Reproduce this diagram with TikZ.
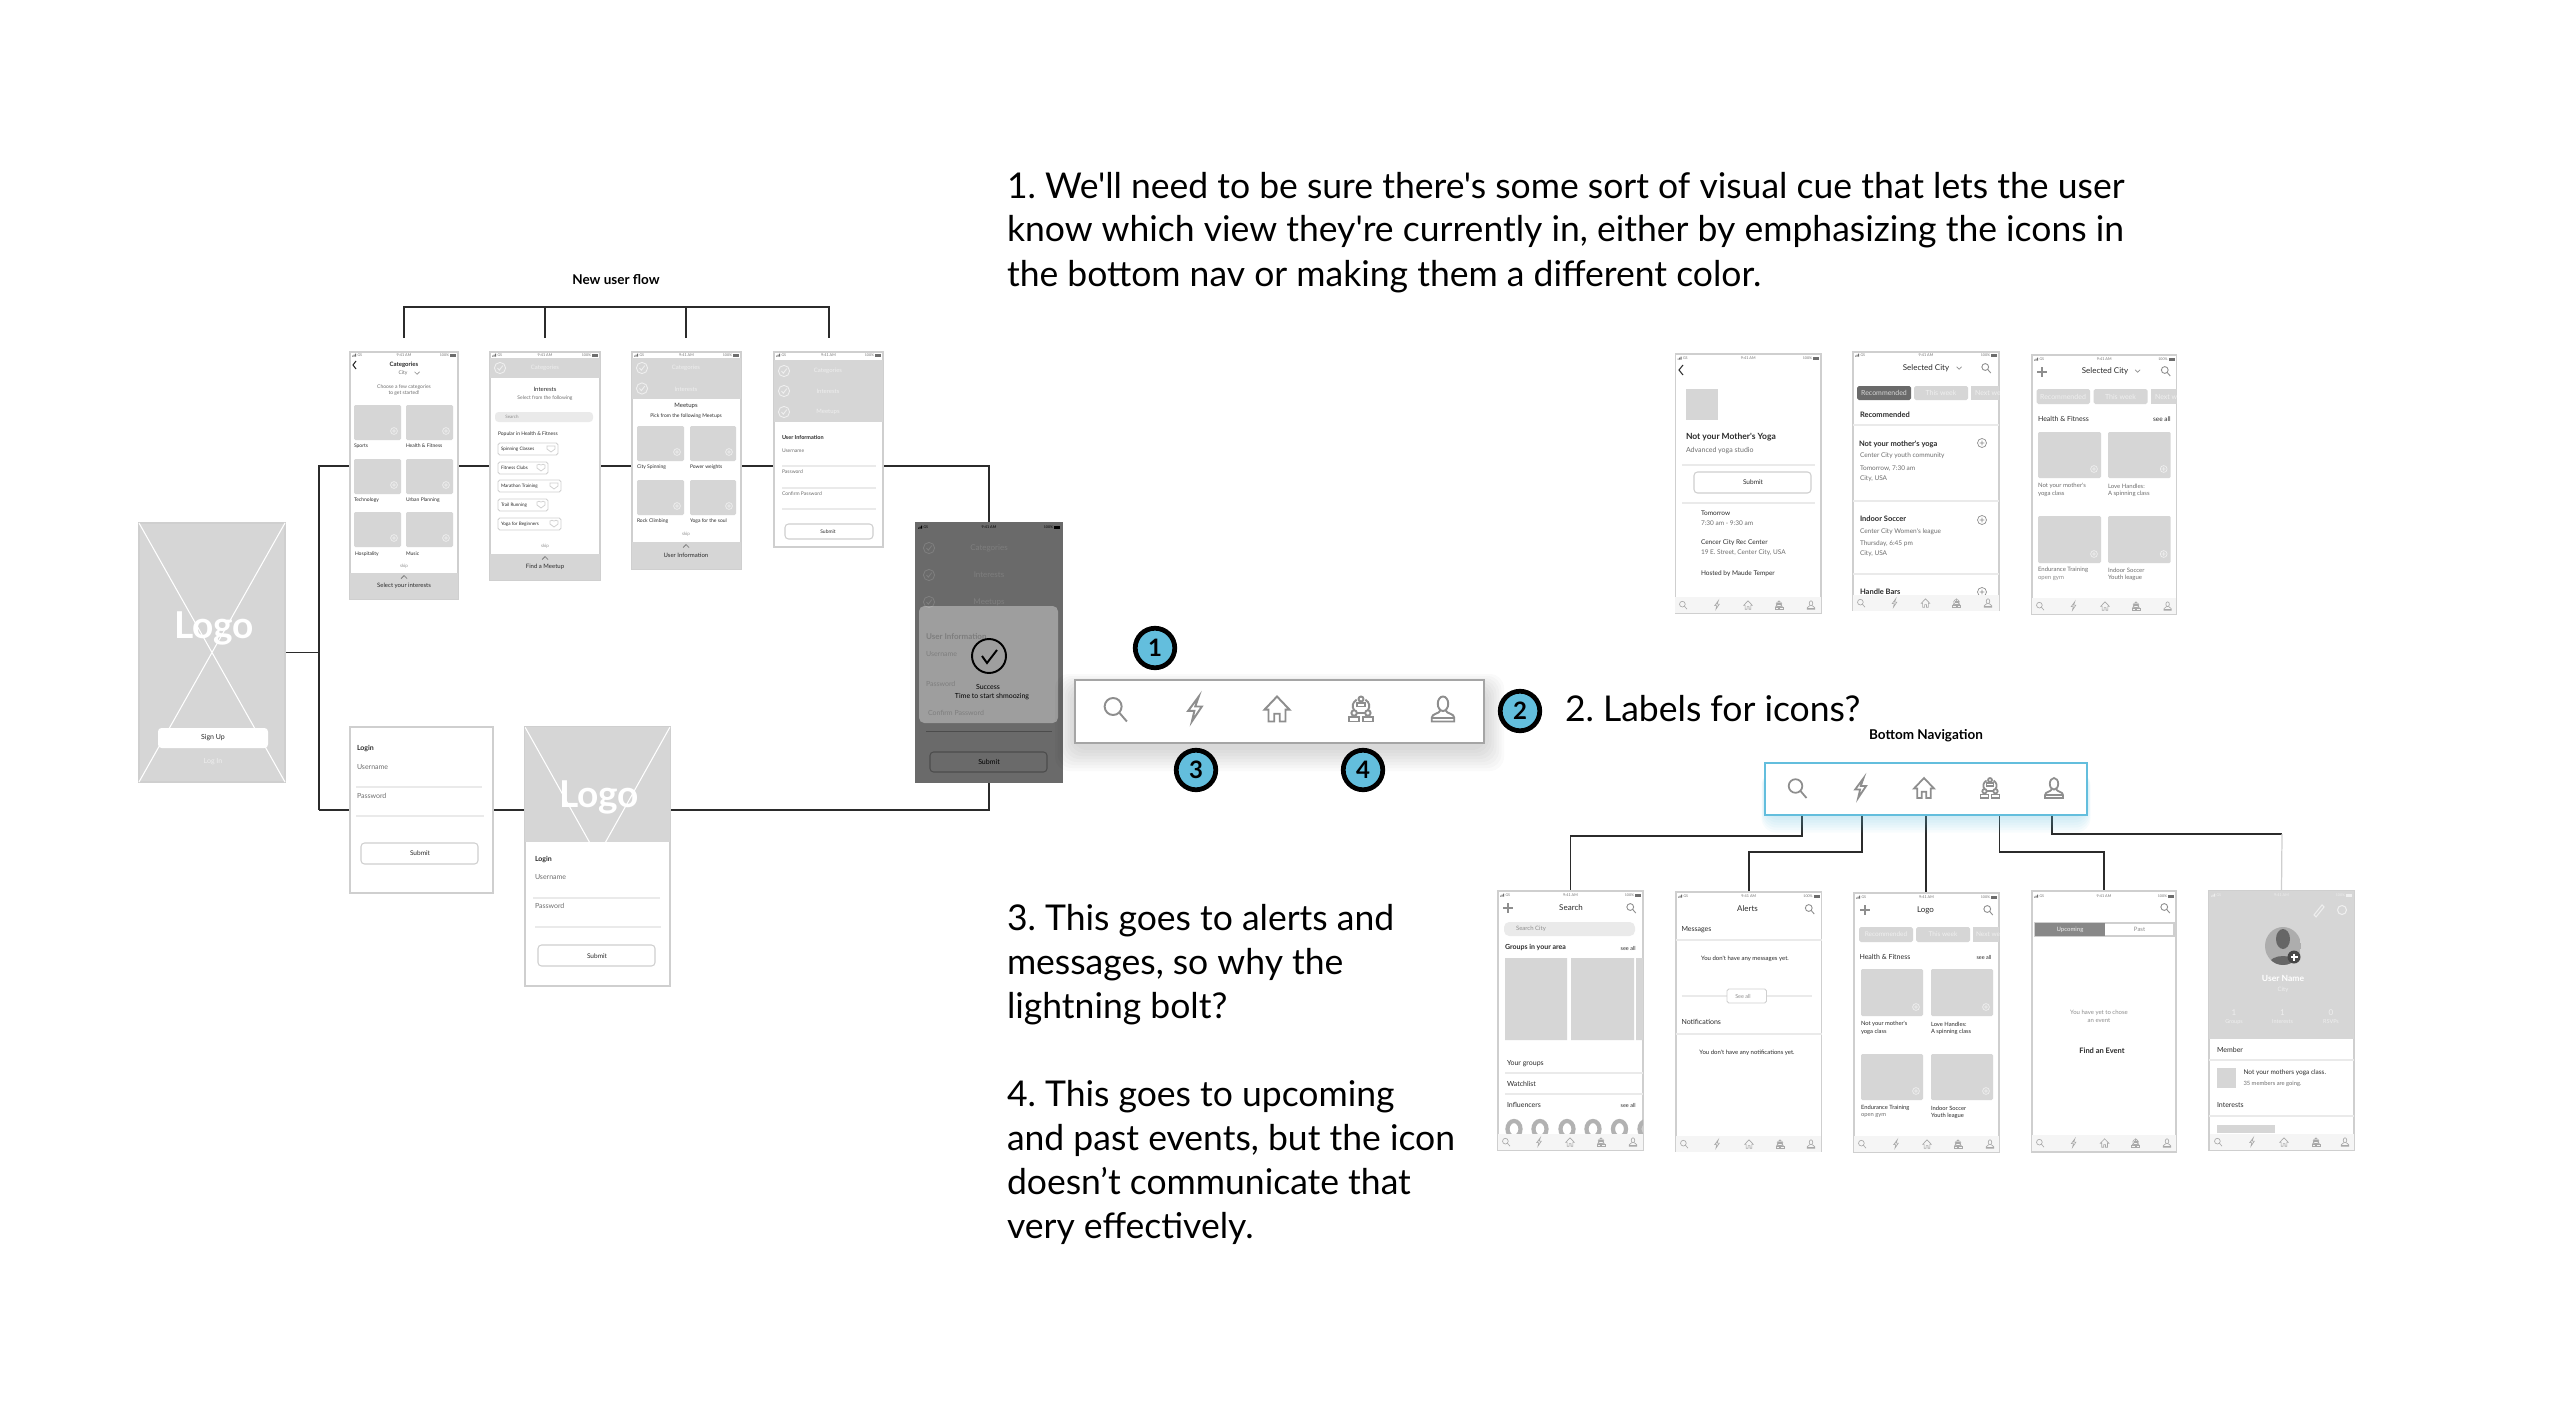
\documentclass[tikz,border=0pt]{standalone}
\usepackage{fontspec}
\setmainfont{Lato}
\newfontfamily\notefont{Lato}
\usepackage{xcolor}
\usetikzlibrary{backgrounds}

\definecolor{tilegray}{HTML}{D6D6D6}
\definecolor{edgegray}{HTML}{CFCFCF}
\definecolor{inkdark}{HTML}{2B2B2B}
\definecolor{inkmid}{HTML}{6E6E6E}
\definecolor{rulegray}{HTML}{EAEAEA}
\definecolor{stripgray}{HTML}{F5F5F5}
\definecolor{palegray}{HTML}{EFEFEF}
\definecolor{iconline}{HTML}{8E8E8E}
\definecolor{tinyline}{HTML}{A8A8A8}
\definecolor{badgeblue}{HTML}{63BEDD}
\definecolor{darkphone}{HTML}{6A6A6A}
\definecolor{darkghost}{HTML}{7E7E7E}

\newcommand{\fpx}[1]{\notefont\fontsize{\fpeval{#1*0.2845}}{\fpeval{#1*0.34}}\selectfont}

\tikzset{
  fz/.style={font=\fpx{#1}},
  fzb/.style={font=\fpx{#1}\bfseries},
  lab/.style={inner sep=0pt,outer sep=0pt,text=inkdark,fz=5},
  lft/.style={lab,anchor=west},
  note/.style={lab,anchor=base west,fz=35.5,text=black},
  screen/.style={draw=edgegray,line width=.3pt,fill=white,anchor=north west,inner sep=0pt,outer sep=0pt},
  wire/.style={draw=inkdark,line width=.55pt},
  wirelight/.style={draw=edgegray,line width=.35pt},
  badge/.style={circle,draw=black,line width=1.35pt,fill=badgeblue,minimum size=.395cm,inner sep=0pt,fzb=24,text=black},
  tinyic/.style={draw=tinyline,line width=.18pt,scale=4.2},
  bigic/.style={draw=iconline,line width=.55pt,scale=12.5},
  midic/.style={draw=iconline,line width=.5pt,scale=10},
  searchic/.pic={
    \path[pic actions,fill=none] (-.15,-.2) circle (.68);
    \path[pic actions] (.33,.28) -- (.95,1);},
  boltic/.pic={
    \path[pic actions,fill=none] (.3,-1) -- (-.55,.15) -- (-.05,.15) -- (-.25,1) -- (.55,-.2) -- (.02,-.2) -- cycle;},
  houseic/.pic={
    \path[pic actions,fill=none] (0,-1) -- (-1,.05) -- (-.68,.05) -- (-.68,1) -- (-.22,1) -- (-.22,.38) -- (.22,.38) -- (.22,1) -- (.68,1) -- (.68,.05) -- (1,.05) -- cycle;},
  groupic/.pic={
    \path[pic actions,fill=none] (0,-.8) circle (.2);
    \path[pic actions,fill=none] (-.35,-.5) rectangle (.35,-.2);
    \path[pic actions,fill=none] (-.35,-.75) .. controls (-.7,-.5) and (-.75,-.2) .. (-.55,.1);
    \path[pic actions,fill=none] (.35,-.75) .. controls (.7,-.5) and (.75,-.2) .. (.55,.1);
    \path[pic actions,fill=none] (-.55,.32) circle (.22);
    \path[pic actions,fill=none] (.55,.32) circle (.22);
    \path[pic actions,fill=none] (-.95,.65) rectangle (-.15,1);
    \path[pic actions,fill=none] (.15,.65) rectangle (.95,1);
    \path[pic actions] (-.33,.32) -- (.33,.32);},
  userIc/.pic={
    \path[pic actions,fill=none] (0,-.42) ellipse (.42 and .58);
    \path[pic actions,fill=none] (-.22,.12) .. controls (-.3,.4) and (-.9,.35) .. (-.9,.7) -- (-.9,1) -- (.9,1) -- (.9,.7) .. controls (.9,.35) and (.3,.4) .. (.22,.12);
    \path[pic actions] (-.9,.72) -- (.9,.72);},
}

\newcounter{txtn}
\newcommand{\txt}[4][]{\stepcounter{txtn}\node[lab,#1] (txt\arabic{txtn}) at ({#2},{#3}) {#4};}
\newcommand{\screen}[6][]{\node[screen,#1,minimum width={(#5-#3)*0.01cm},minimum height={(#6-#4)*0.01cm}] (#2) at (#3,#4) {};}
\newcommand{\plusmark}[4]{\draw[#4,line width=.2pt] (#1,#2) circle (#3) ({#1-#3*.55},#2) -- ({#1+#3*.55},#2) (#1,{#2-#3*.55}) -- (#1,{#2+#3*.55});}
\newcommand{\tile}[4]{\fill[tilegray,rounded corners=.4pt] (#1,#2) rectangle (#3,#4);\plusmark{#3-7}{#4-9}{3.4}{palegray}}
\newcommand{\chk}[3]{\draw[#3,line width=.25pt] (#1,#2) circle (5.6) ({#1-2.5},#2) -- ({#1-.7},{#2+2.2}) -- ({#1+2.8},{#2-2.4});}
\newcommand{\chevup}[2]{\draw[inkmid,line width=.2pt] ({#1-3},{#2+1.5}) -- (#1,{#2-1.5}) -- ({#1+3},{#2+1.5});}
\newcommand{\chevdn}[3]{\draw[iconline,line width=.2pt] ({#1-#3},{#2-#3*.5}) -- (#1,{#2+#3*.5}) -- ({#1+#3},{#2-#3*.5});}
\newcommand{\hair}[3]{\draw[rulegray,line width=.3pt] (#1,#3) -- (#2,#3);}
\newcommand{\statusbar}[4][inkmid]{%
  \fill[#1] ({#2+2},{#4+1.6}) rectangle ({#2+3},{#4+.6}) ({#2+3.6},{#4+1.6}) rectangle ({#2+4.6},{#4-.3}) ({#2+5.2},{#4+1.6}) rectangle ({#2+6.2},{#4-1.4});
  \txt[fz=3.6,text=#1,anchor=west]{#2+7.5}{#4}{GS}
  \txt[fz=3.8,text=#1]{(#2+#3)/2}{#4}{9:41 AM}
  \txt[fz=3.6,text=#1,anchor=east]{#3-9}{#4}{100\%}
  \fill[#1] ({#3-8},{#4-1.5}) rectangle ({#3-2},{#4+1.5});}
\newcommand{\tinynav}[7]{\fill[stripgray] ({#1-8},{#2-8.5}) rectangle ({#1+#7},{#2+8});
  \pic[tinyic] at (#1,#2) {searchic};
  \pic[tinyic] at (#3,#2) {boltic};
  \pic[tinyic] at (#4,#2) {houseic};
  \pic[tinyic] at (#5,#2) {groupic};
  \pic[tinyic] at (#6,#2) {userIc};}

\begin{document}
\frenchspacing
\begin{tikzpicture}[x=0.01cm,y=-0.01cm]
\useasboundingbox (0,-1) rectangle (2559,1420);

% Notes
\node[note] (noteone) at (1007,197) {1. We'll need to be sure there's some sort of visual cue that lets the user};
\node[note] (noteonea) at (1007,241) {know which view they're currently in, either by emphasizing the icons in};
\node[note] (noteoneb) at (1007,285) {the bottom nav or making them a different color.};
\node[note] (notetwo) at (1565,720.500) {2. Labels for icons?};
\node[note] (notethree) at (1007,929.500) {3. This goes to alerts and};
\node[note] (notethreea) at (1007,973.500) {messages, so why the};
\node[note] (notethreeb) at (1007,1017.500) {lightning bolt?};
\node[note] (notefour) at (1007,1105) {4. This goes to upcoming};
\node[note] (notefoura) at (1007,1149) {and past events, but the icon};
\node[note] (notefourb) at (1007,1193) {doesn’t communicate that};
\node[note] (notefourc) at (1007,1237) {very effectively.};

% Titles
\node[lab,fzb=13.5,text=black] (flowtitle) at (616,279) {New user flow};
\node[lab,fzb=13.5,text=black] (navtitle) at (1926,735) {Bottom Navigation};

% Splash
\screen[fill=tilegray]{splash}{139}{522}{285}{781}
\draw[white,line width=.3pt] (splash.north west) -- (splash.south east) (splash.north east) -- (splash.south west);
\txt[fzb=37,text=white]{214}{627}{Logo}
\fill[white,rounded corners=1pt] (158,727) rectangle (268,747);
\txt[fz=7,text=inkdark]{213}{737}{Sign Up}
\txt[fz=7,text=palegray]{213}{761}{Log In}

% Categories
\screen{catscreen}{350}{351}{458}{598}
\statusbar{350}{458}{354}
\draw[inkdark,line width=.3pt] (356,360) -- (353,364) -- (356,368);
\txt[fzb=6]{404}{364}{Categories}
\txt[fz=5,text=inkmid]{403}{372}{City}
\chevdn{417}{372}{2.5}
\txt[fz=5,text=inkmid]{404}{386}{Choose a few categories}
\txt[fz=5,text=inkmid]{404}{392}{to get started!}
\tile{354}{404}{401}{439}\tile{406}{404}{453}{439}
\tile{354}{458}{401}{493}\tile{406}{458}{453}{493}
\tile{354}{511}{401}{546}\tile{406}{511}{453}{546}
\txt[lft]{354}{445}{Sports}
\txt[lft]{406}{445}{Health \& Fitness}
\txt[lft]{354}{499}{Technology}
\txt[lft]{406}{499}{Urban Planning}
\txt[lft]{355}{553}{Hospitality}
\txt[lft]{406}{553}{Music}
\txt[fz=4.5,text=iconline]{404}{565}{skip}
\fill[tilegray] (350,572) rectangle (458,598);
\chevup{404}{576}
\txt[fz=6]{404}{585}{Select your interests}

% Interests
\screen{intscreen}{490}{351}{600}{579}
\statusbar{490}{600}{354}
\fill[tilegray] (490,357) rectangle (600,377);
\chk{500}{367}{palegray}
\txt[fz=6,text=palegray]{545}{367}{Categories}
\txt[fz=6]{545}{388}{Interests}
\txt[fz=5,text=inkmid]{545}{397.500}{Select from the following}
\fill[rulegray,rounded corners=1pt] (495,411) rectangle (593,421);
\txt[fz=4.5,text=iconline]{512}{416}{Search}
\txt[lft]{498}{433}{Popular in Health \& Fitness}
\foreach \topy/\rightx/\word in {442/558/Spinning Classes,461/548/Fitness Clubs,479/561/Marathon Training,498/548/Trail Running,517/561/Yoga for Beginners}{
  \draw[edgegray,line width=.25pt,rounded corners=.5pt] (498,\topy) rectangle (\rightx,{\topy+12});
  \txt[lft,fz=4.6]{501}{\topy+6}{\word}
  \draw[edgegray,line width=.2pt] ({\rightx-7},{\topy+3}) .. controls ({\rightx-5},{\topy+2}) .. ({\rightx-3},{\topy+3}) -- ({\rightx-3},{\topy+6}) -- ({\rightx-7},{\topy+9}) -- ({\rightx-11},{\topy+6}) -- ({\rightx-11},{\topy+3}) .. controls ({\rightx-9},{\topy+2}) .. ({\rightx-7},{\topy+3});
}
\txt[fz=4.5,text=iconline]{545}{545}{skip}
\fill[tilegray] (490,553) rectangle (600,579);
\chevup{545}{557}
\txt[fz=6]{545}{566}{Find a Meetup}

% Meetups
\screen{meetscreen}{632}{351}{741}{568}
\statusbar{632}{741}{354}
\fill[tilegray] (632,357) rectangle (741,397.500);
\chk{642}{367}{palegray}\chk{642}{387.500}{palegray}
\txt[fz=6,text=palegray]{686}{367}{Categories}
\txt[fz=6,text=palegray]{686}{388}{Interests}
\txt[fz=6]{686}{405}{Meetups}
\txt[fz=5]{686}{415}{Pick from the following Meetups}
\tile{637}{425}{684}{460}\tile{690}{425}{736}{460}
\tile{637}{479}{684}{514}\tile{690}{479}{736}{514}
\txt[lft]{637}{466}{City Spinning}
\txt[lft]{690}{466}{Power weights}
\txt[lft]{637}{520}{Rock Climbing}
\txt[lft]{690}{520}{Yoga for the soul}
\txt[fz=4.5,text=iconline]{686}{533}{skip}
\fill[tilegray] (632,541) rectangle (741,568);
\chevup{686}{545}
\txt[fz=6]{686}{554}{User Information}

% User information
\screen{userscreen}{774}{351}{883}{546}
\statusbar{774}{883}{354}
\fill[tilegray] (774,359) rectangle (883,421);
\chk{784}{370}{palegray}\chk{784}{390}{palegray}\chk{784}{411}{palegray}
\txt[fz=6,text=palegray]{828}{370}{Categories}
\txt[fz=6,text=palegray]{828}{390}{Interests}
\txt[fz=6,text=palegray]{828}{411}{Meetups}
\txt[lft,fzb=5.500]{782}{436}{User Information}
\txt[lft,fz=5,text=inkmid]{782}{450}{Username}
\txt[lft,fz=5,text=inkmid]{782}{471}{Password}
\txt[lft,fz=5,text=inkmid]{782}{493}{Confirm Password}
\hair{782}{876}{465}\hair{782}{876}{487}\hair{782}{876}{508}
\draw[edgegray,line width=.3pt,rounded corners=1pt] (785,523) rectangle (873,538);
\txt[fz=5]{828}{531}{Submit}

% Success
\screen[fill=darkphone,draw=darkphone]{success}{916}{522}{1062}{781}
\statusbar[black]{916}{1062}{526}
\chk{929}{547}{darkghost}\chk{929}{574}{darkghost}\chk{929}{601}{darkghost}
\txt[fz=8,text=darkghost]{989}{547}{Categories}
\txt[fz=8,text=darkghost]{989}{574}{Interests}
\txt[fz=8,text=darkghost]{989}{601}{Meetups}
\fill[white,opacity=.35,rounded corners=1.5pt] (919,605) rectangle (1058,722);
\txt[lft,fzb=8,text=darkghost]{926}{636}{User Information}
\txt[lft,fz=7,text=darkghost]{926}{653}{Username}
\txt[lft,fz=7,text=darkghost]{926}{683}{Password}
\txt[lft,fz=7,text=darkghost]{928}{712}{Confirm Password}
\draw[black,line width=.55pt] (989,655) circle (17);
\draw[black,line width=.55pt] (982,655) -- (987,662) -- (997,649);
\txt[fz=7,text=black]{988}{686}{Success}
\txt[fz=7,text=black]{992}{696}{Time to start shmoozing}
\draw[black!70,line width=.2pt] (926,730) -- (1052,730);
\draw[black!70,line width=.3pt,rounded corners=1pt] (930,751) rectangle (1047,771);
\txt[fz=7,text=black]{989}{761}{Submit}

% Login
\screen{loginscreen}{350}{726}{493}{892}
\txt[lft,fzb=7]{357}{748}{Login}
\txt[lft,fz=7,text=inkmid]{357}{766}{Username}
\hair{356}{482}{786}
\txt[lft,fz=7,text=inkmid]{357}{795}{Password}
\hair{356}{484}{815}
\draw[edgegray,line width=.3pt,rounded corners=1pt] (361,842) rectangle (478,863);
\txt[fz=6.5]{420}{852}{Submit}

% Login with logo
\screen{logoscreen}{525}{726}{670}{985}
\fill[tilegray] (525,726) rectangle (670,841);
\begin{scope}
\clip (525,726) rectangle (670,841);
\draw[white,line width=.3pt] (525,726) -- (670,985) (670,726) -- (525,985);
\end{scope}
\txt[fzb=37,text=white]{599}{796}{Logo}
\txt[lft,fzb=7]{535}{859}{Login}
\txt[lft,fz=7,text=inkmid]{535}{876}{Username}
\hair{533}{660}{897}
\txt[lft,fz=7,text=inkmid]{535}{905}{Password}
\hair{535}{661}{926}
\draw[edgegray,line width=.3pt,rounded corners=1pt] (538,944) rectangle (655,965);
\txt[fz=6.5]{597}{955}{Submit}

% Nav bar
\foreach \grow in {1,...,8}{
  \fill[black,opacity=.018,rounded corners=4pt] ({1075-\grow*2.5},{689-\grow*2}) rectangle ({1484+\grow*2.5},{746+\grow*3});
}
\screen[draw=iconline!80,line width=.55pt]{navbar}{1075}{679}{1484}{742}
\pic[bigic] at (1115,708) {searchic};
\pic[bigic] at (1195,708) {boltic};
\pic[bigic] at (1277,708) {houseic};
\pic[bigic] at (1361,708) {groupic};
\pic[bigic] at (1443,708) {userIc};
\node[badge] (badgeone) at (1155,647) {1};
\node[badge] (badgetwo) at (1520,710) {2};
\node[badge] (badgethree) at (1196,769) {3};
\node[badge] (badgefour) at (1363,769) {4};

% Event detail
\screen{detailscreen}{1675.500}{353}{1821}{612}
\statusbar{1675.500}{1821}{357}
\draw[inkdark,line width=.3pt] (1683,364) -- (1679,369) -- (1683,374);
\fill[tilegray] (1686,388) rectangle (1718,419);
\txt[lft,fzb=8.500]{1686}{436}{Not your Mother's Yoga}
\txt[lft,fz=7,text=inkmid]{1686}{450}{Advanced yoga studio}
\hair{1682}{1815}{464}
\draw[edgegray,line width=.3pt,rounded corners=1pt] (1694,471) rectangle (1811,492);
\txt[fz=6.5]{1753}{481}{Submit}
\hair{1682}{1815}{502}
\txt[lft,fz=6.5]{1701}{512}{Tomorrow}
\txt[lft,fz=6.5,text=inkmid]{1701}{522}{7:30 am - 9:30 am}
\txt[lft,fz=6.5]{1701}{542}{Cencer City Rec Center}
\txt[lft,fz=6.5,text=inkmid]{1701}{552}{19 E. Street, Center City, USA}
\txt[lft,fz=6.5]{1701}{573}{Hosted by Maude Temper}
\tinynav{1683}{604}{1717}{1748}{1779}{1811}{138}

% Recommended
\screen{recscreen}{1853}{351}{1999}{609}
\statusbar{1853}{1999}{354}
\txt[fz=8,text=inkdark]{1926}{367}{Selected City}
\chevdn{1959}{367}{2.5}
\pic[draw=iconline,line width=.25pt,scale=5] at (1986,367) {searchic};
\fill[darkphone,rounded corners=.5pt] (1857,385) rectangle (1911,399);
\fill[tilegray,rounded corners=.5pt] (1914,385) rectangle (1968,399);
\txt[fz=7,text=tilegray]{1884}{392}{Recommended}
\txt[fz=7,text=palegray]{1941}{392}{This week}
\begin{scope}
\clip (1971,385) rectangle (1999,399);
\fill[tilegray] (1971,385) rectangle (1999,399);
\txt[lft,fz=7,text=palegray]{1975}{392}{Next week}
\end{scope}
\txt[lft,fzb=7.500]{1860}{414}{Recommended}
\hair{1853}{1999}{424}
\txt[lft,fzb=7.500]{1859}{443}{Not your mother's yoga}
\plusmark{1982}{442}{4.500}{iconline}
\txt[lft,fz=6.5,text=inkmid]{1860}{455}{Center City youth community}
\txt[lft,fz=6.5,text=inkmid]{1860}{468}{Tomorrow, 7:30 am}
\txt[lft,fz=6.5,text=inkmid]{1860}{478}{City, USA}
\hair{1853}{1999}{500}
\txt[lft,fzb=7.500]{1860}{518}{Indoor Soccer}
\plusmark{1982}{519}{4.500}{iconline}
\txt[lft,fz=6.5,text=inkmid]{1860}{531}{Center City Women's league}
\txt[lft,fz=6.5,text=inkmid]{1860}{543}{Thursday, 6:45 pm}
\txt[lft,fz=6.5,text=inkmid]{1860}{553}{City, USA}
\hair{1853}{1999}{573}
\txt[lft,fzb=7.500]{1860}{591}{Handle Bars}
\plusmark{1982}{591}{4.500}{iconline}
\tinynav{1861}{602}{1894.500}{1925.500}{1956.500}{1988}{138}

% Selected city
\screen{cityscreen}{2032}{354}{2176.500}{613}
\statusbar{2032}{2176.500}{358}
\draw[iconline,line width=.3pt] (2037,371) -- (2047,371) (2042,366) -- (2042,376);
\txt[fz=8,text=inkdark]{2105}{370}{Selected City}
\chevdn{2137.600}{370}{2.5}
\pic[draw=iconline,line width=.25pt,scale=5] at (2165.500,370) {searchic};
\fill[tilegray,rounded corners=.5pt] (2036.500,388) rectangle (2090,403);
\fill[tilegray,rounded corners=.5pt] (2093.500,388) rectangle (2147.600,403);
\txt[fz=7,text=palegray]{2063}{395.500}{Recommended}
\txt[fz=7,text=palegray]{2120.500}{395.500}{This week}
\begin{scope}
\clip (2151,388) rectangle (2176.500,403);
\fill[tilegray] (2151,388) rectangle (2176.500,403);
\txt[lft,fz=7,text=palegray]{2155}{395.500}{Next week}
\end{scope}
\txt[lft,fz=7]{2038}{418}{Health \& Fitness}
\txt[lab,anchor=east,fz=6.5]{2170.700}{418}{see all}
\tile{2038}{431}{2101}{477}\tile{2108}{431}{2170.700}{477}
\tile{2038}{515}{2101}{562}\tile{2108}{515}{2170.700}{562}
\txt[lft,fz=6,text=inkmid]{2038}{485}{Not your mother's}
\txt[lft,fz=6,text=inkmid]{2038}{493}{yoga class}
\txt[lft,fz=6,text=inkmid]{2108}{485}{Love Handles:}
\txt[lft,fz=6,text=inkmid]{2108}{493}{A spinning class}
\txt[lft,fz=6,text=inkmid]{2038}{569}{Endurance Training}
\txt[lft,fz=6,text=iconline]{2038}{577}{open gym}
\txt[lft,fz=6,text=inkmid]{2108}{569}{Indoor Soccer}
\txt[lft,fz=6,text=inkmid]{2108}{577}{Youth league}
\tinynav{2040}{605}{2073.500}{2105}{2136}{2167.600}{136}

% Blue bar
\foreach \grow in {1,...,7}{
  \fill[badgeblue,opacity=.05,rounded corners=4pt] ({1765-\grow*.5},770) rectangle ({2087+\grow*.5},{814+\grow*2.5});
}
\screen[draw=badgeblue,line width=.8pt]{bluebar}{1765}{762}{2087}{814}
\pic[midic] at (1797,787) {searchic};
\pic[midic] at (1860.600,787) {boltic};
\pic[midic] at (1924,787) {houseic};
\pic[midic] at (1990,787) {groupic};
\pic[midic] at (2054,787) {userIc};

% Search tab
\screen{searchscreen}{1498}{890}{1643}{1149}
\statusbar{1498}{1643}{894}
\draw[iconline,line width=.3pt] (1503,907) -- (1513,907) (1508,902) -- (1508,912);
\txt[fz=8]{1571}{907}{Search}
\pic[draw=iconline,line width=.25pt,scale=5] at (1631,907) {searchic};
\fill[rulegray,rounded corners=1.5pt] (1504,921) rectangle (1635,935);
\txt[lft,fz=6,text=iconline]{1516}{928}{Search City}
\txt[lft,fzb=7]{1505}{946}{Groups in your area}
\txt[lab,anchor=east,fz=5.5]{1635.600}{947}{see all}
\fill[tilegray] (1505,957) rectangle (1567,1039) (1571,957) rectangle (1634,1039) (1636,957) rectangle (1643,1039);
\txt[lft,fz=7]{1507}{1063}{Your groups}
\hair{1505}{1643}{1072}
\txt[lft,fz=7]{1507}{1083}{Watchlist}
\hair{1505}{1643}{1093}
\txt[lft,fz=7]{1507}{1104}{Influencers}
\txt[lab,anchor=east,fz=5.5]{1635.600}{1104}{see all}
\begin{scope}
\clip (1498,1110) rectangle (1643,1132);
\foreach \ringx in {1514,1540,1567,1593,1619.500,1646}{
  \draw[black!30,line width=1.2pt] (\ringx,1128) ellipse (6.5 and 8);
}
\end{scope}
\tinynav{1506}{1141}{1539}{1570}{1601}{1633}{137}

% Alerts tab
\screen{alertscreen}{1676}{891}{1821.600}{1150}
\statusbar{1676}{1821.600}{895}
\txt[fz=8]{1747.500}{908}{Alerts}
\pic[draw=iconline,line width=.25pt,scale=5] at (1809.500,908) {searchic};
\txt[lft,fz=7]{1681.500}{929}{Messages}
\hair{1676}{1821.600}{939}
\txt[fz=6]{1745}{958}{You don't have any messages yet.}
\hair{1681.500}{1812}{995}
\draw[edgegray,fill=white,line width=.25pt,rounded corners=.5pt] (1727,988) rectangle (1766.500,1002);
\txt[fz=5.5,text=iconline]{1743}{995}{See all}
\txt[lft,fz=7]{1681.500}{1021}{Notifications}
\hair{1676}{1821.600}{1033}
\txt[fz=6]{1747}{1052}{You don't have any notifications yet.}
\tinynav{1684}{1143}{1717}{1749}{1780}{1811}{137}

% Home tab
\screen{homescreen}{1854}{892}{1999}{1151}
\statusbar{1854}{1999}{896}
\draw[iconline,line width=.3pt] (1860,909) -- (1870,909) (1865,904) -- (1865,914);
\txt[fz=8]{1925.500}{909}{Logo}
\pic[draw=iconline,line width=.25pt,scale=5] at (1988,909) {searchic};
\fill[tilegray,rounded corners=.5pt] (1859,926) rectangle (1913,941) (1916,926) rectangle (1970,941);
\txt[fz=6.5,text=palegray]{1886}{933.500}{Recommended}
\txt[fz=6.5,text=palegray]{1943}{933.500}{This week}
\begin{scope}
\clip (1973,926) rectangle (1999,941);
\fill[tilegray] (1973,926) rectangle (1999,941);
\txt[lft,fz=6.5,text=palegray]{1976}{933.500}{Next week}
\end{scope}
\txt[lft,fz=7]{1859.500}{956}{Health \& Fitness}
\txt[lab,anchor=east,fz=5.5]{1991.500}{956}{see all}
\tile{1861}{968}{1923}{1015}\tile{1931}{968}{1993}{1015}
\tile{1861}{1053}{1923}{1099}\tile{1931}{1053}{1993}{1099}
\txt[lft,fz=5.800]{1861}{1023}{Not your mother's}
\txt[lft,fz=5.800]{1861}{1031}{yoga class}
\txt[lft,fz=5.800]{1931}{1023}{Love Handles:}
\txt[lft,fz=5.800]{1931}{1031}{A spinning class}
\txt[lft,fz=5.800]{1861}{1107}{Endurance Training}
\txt[lft,fz=5.800,text=inkmid]{1861}{1115}{open gym}
\txt[lft,fz=5.800]{1931}{1107}{Indoor Soccer}
\txt[lft,fz=5.800]{1931}{1115}{Youth league}
\tinynav{1862}{1143}{1896}{1927}{1958}{1990}{137}

% Events tab
\screen{eventscreen}{2032}{890}{2176}{1151}
\statusbar{2032}{2176}{895}
\pic[draw=iconline,line width=.25pt,scale=5] at (2165,907) {searchic};
\draw[edgegray,line width=.35pt] (2035,922) rectangle (2174,935);
\fill[darkphone!80] (2035,922) rectangle (2104.600,935);
\txt[fz=6,text=palegray]{2070}{928.500}{Upcoming}
\txt[fz=6,text=iconline]{2139.600}{928.500}{Past}
\txt[fz=6,text=iconline]{2099}{1012}{You have yet to chose}
\txt[fz=6,text=iconline]{2099}{1020}{an event}
\txt[fzb=7.500]{2102}{1050}{Find an Event}
\tinynav{2040}{1142}{2073.600}{2104.600}{2135.600}{2167}{136}

% Profile tab
\screen{profilescreen}{2209}{890}{2354}{1149}
\fill[tilegray] (2209,890) rectangle (2354,1038);
\statusbar[palegray]{2209}{2354}{894}
\draw[palegray,line width=.3pt] (2314,914) -- (2322,904) -- (2324,906) -- (2316,916) -- cycle;
\draw[palegray,line width=.3pt] (2342,909) circle (4.5);
\begin{scope}
\clip (2283,945) ellipse (18 and 19);
\fill[black!32] (2265,926) rectangle (2301,964);
\fill[black!60] (2283,938) ellipse (7 and 10);
\fill[black!60] (2268,964) .. controls (2270,952) and (2296,952) .. (2298,964) -- cycle;
\end{scope}
\fill[black!72] (2294,956) circle (6.5);
\draw[white,line width=.35pt] (2290.500,956) -- (2297.500,956) (2294,952.500) -- (2294,959.500);
\txt[fzb=8.500,text=white]{2283}{977}{User Name}
\txt[fz=6,text=palegray]{2283}{989}{City}
\txt[fz=8,text=palegray]{2234}{1012}{1}
\txt[fz=8,text=palegray]{2282.500}{1012}{1}
\txt[fz=8,text=palegray]{2331}{1012}{0}
\txt[fz=5.5,text=palegray]{2234}{1021}{Groups}
\txt[fz=5.5,text=palegray]{2282.500}{1021}{Interests}
\txt[fz=5.5,text=palegray]{2331}{1021}{RSVPs}
\txt[lft,fz=7]{2217}{1049}{Member}
\hair{2209}{2354}{1059}
\fill[tilegray] (2216.500,1067) rectangle (2236,1087);
\txt[lft,fz=6.5]{2243.500}{1072}{Not your mothers yoga class.}
\txt[lft,fz=5.800,text=inkmid]{2243.500}{1083}{35 members are going.}
\txt[lft,fz=7]{2217}{1104}{Interests}
\hair{2209}{2354}{1115}
\fill[tilegray] (2216.500,1124) rectangle (2275,1132);
\tinynav{2218}{1141}{2252}{2284}{2316}{2345}{136}

% Connectors
\coordinate (upperjog) at (319,465);
\coordinate (lowerjog) at (319,809);
\coordinate (dropa) at (404,337);
\coordinate (dropb) at (545,337);
\coordinate (dropc) at (686,337);
\coordinate (dropd) at (829,337);
\coordinate (flowtop) at (829,306);
\coordinate (tabsearch) at (1802,814);
\coordinate (tabalert) at (1862,814);
\coordinate (tabevent) at (1999.500,814);
\coordinate (tabuser) at (2052,814);
\coordinate (userelbow) at (2282,833);
\begin{scope}[on background layer]
\draw[wire] (splash.east) -- (splash.east -| upperjog);
\draw[wire] (lowerjog) -- (upperjog) -- (upperjog -| success.north) -- (success.north);
\draw[wire] (lowerjog) -- (lowerjog -| success.south) -- (success.south);
\draw[wire] (dropa) |- (flowtop) -- (dropd);
\draw[wire] (dropb) -- (dropb |- flowtop);
\draw[wire] (dropc) -- (dropc |- flowtop);
\draw[wire] (tabsearch) -- ++(0,21) -| (searchscreen.north);
\draw[wire] (tabalert) -- ++(0,37) -| (alertscreen.north);
\draw[wire] (bluebar.south) -- (bluebar.south |- homescreen.north);
\draw[wire] (tabevent) -- ++(0,37) -| (eventscreen.north);
\draw[wire] (tabuser) |- (userelbow);
\draw[wirelight] (userelbow) -- (profilescreen.north);
\end{scope}
\end{tikzpicture}
\end{document}
